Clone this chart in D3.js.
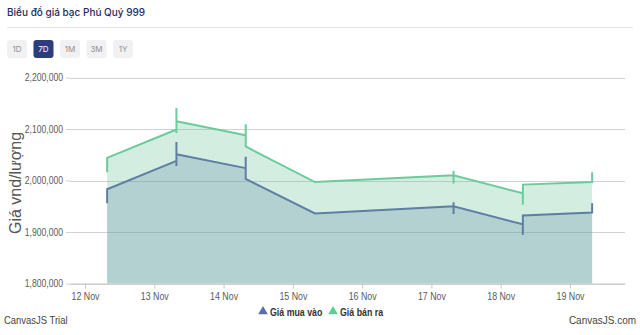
<!DOCTYPE html>
<html>
<head>
<meta charset="utf-8">
<script src="https://cdn.jsdelivr.net/npm/d3@7/dist/d3.min.js"></script>
<style>
  html, body { margin: 0; padding: 0; background: #fff; }
  svg { display: block; }
  .chartfont { font-family: 'Liberation Sans', 'Noto Sans', sans-serif; }
</style>
</head>
<body>
<svg id="chart" width="640" height="335"></svg>
<script>
// ---------- data ----------
const title = "Biểu đồ giá bạc Phú Quý 999";
const rangeButtons = ["1D", "7D", "1M", "3M", "1Y"];
const activeButton = "7D";
const dates = ["2024-11-12T07:40", "2024-11-13T07:40", "2024-11-14T07:40", "2024-11-15T07:40",
               "2024-11-17T07:40", "2024-11-18T07:40", "2024-11-19T07:40"];
// several readings were recorded at the same time on each day
const buyValues = [
  [1956000, 1983000],
  [2038000, 2075000, 2028000, 2051000],
  [2024000, 2046000, 2003000],
  [1936000],
  [1950000, 1958000, 1935000, 1950000],
  [1915000, 1894000, 1932000],
  [1938000, 1956000]
];
const sellValues = [
  [2016000, 2044000],
  [2099000, 2141000, 2092000, 2115000],
  [2088000, 2109000, 2066000],
  [1997000],
  [2010000, 2019000, 1994000, 2010000],
  [1975000, 1953000, 1992000],
  [1997000, 2016000]
];
const yTicks = [1800000, 1900000, 2000000, 2100000, 2200000];
const xTickDays = ["2024-11-12", "2024-11-13", "2024-11-14", "2024-11-15", "2024-11-16", "2024-11-17", "2024-11-18", "2024-11-19"];
const seriesNames = ["Giá mua vào", "Giá bán ra"];
const yTitle = "Giá vnd/lượng";

// ---------- drawing ----------
(function () {
const svg = d3.select("#chart");
const parseT = d3.timeParse("%Y-%m-%dT%H:%M");
const parseD = d3.timeParse("%Y-%m-%d");

// condense text horizontally (reference uses a narrow font)
function condense(sel, k) {
  sel.each(function () {
    const w = this.getComputedTextLength();
    d3.select(this).attr("textLength", w * k).attr("lengthAdjust", "spacingAndGlyphs");
  });
}

// header
svg.append("text").attr("x", 7).attr("y", 16)
  .attr("font-family", "Inter, 'Noto Sans', sans-serif").attr("font-size", 10)
  .attr("font-weight", 500).attr("fill", "#1f2b5c").text(title);
svg.append("line").attr("x1", 7).attr("x2", 633).attr("y1", 27.5).attr("y2", 27.5)
  .attr("stroke", "#e3e3e3");
const btn = svg.append("g").selectAll("g").data(rangeButtons).join("g")
  .attr("transform", (d, i) => `translate(${7 + i * 26.5},40)`);
btn.append("rect").attr("width", 20).attr("height", 18).attr("rx", 3)
  .attr("fill", d => d === activeButton ? "#2b3d7c" : "#f1f1f3");
btn.append("text").attr("x", 10).attr("y", 12.2).attr("text-anchor", "middle")
  .attr("font-family", "Inter, 'Noto Sans', sans-serif").attr("font-size", 8)
  .attr("fill", d => d === activeButton ? "#ffffff" : "#8e8e96").text(d => d);

// scales
const pLeft = 70, pRight = 625, pTop = 77.5, pBottom = 283.5;
const xBase = d3.scaleTime().domain([parseD("2024-11-12"), parseD("2024-11-19")]).range([85, 570]);
const x = d3.scaleTime().domain([xBase.invert(pLeft), xBase.invert(pRight)]).range([pLeft, pRight]);
const y = d3.scaleLinear().domain([1800000, 2200000]).range([pBottom, pTop]);

const g = svg.append("g").attr("class", "chartfont");

// gridlines
g.append("g").selectAll("line").data(yTicks).join("line")
  .attr("x1", pLeft).attr("x2", pRight)
  .attr("y1", d => Math.round(y(d)) + 0.5).attr("y2", d => Math.round(y(d)) + 0.5)
  .attr("stroke", "#d2d2d2").attr("stroke-width", 1);

// y axis labels
const yAxis = d3.axisLeft(y).tickValues(yTicks).tickFormat(d3.format(",")).tickSize(4).tickPadding(3);
const ya = g.append("g").attr("transform", `translate(${pLeft},0)`).call(yAxis);
ya.select(".domain").remove();
ya.selectAll(".tick line").attr("stroke", "#d2d2d2");
ya.selectAll("text").attr("font-size", 10.5).attr("fill", "#5a5a5a").attr("font-family", null);
condense(ya.selectAll("text"), 0.82);

// y title
g.append("text").attr("transform", `translate(21,183) rotate(-90)`)
  .attr("text-anchor", "middle").attr("font-size", 16).attr("fill", "#555")
  .text(yTitle);

// flatten series
function flatten(vals) {
  const out = [];
  vals.forEach((arr, i) => arr.forEach(v => out.push({ t: parseT(dates[i]), v })));
  return out;
}
const buy = flatten(buyValues);
const sell = flatten(sellValues);

const area = d3.area().x(d => x(d.t)).y0(pBottom).y1(d => y(d.v));
const line = d3.line().x(d => x(d.t)).y(d => y(d.v));

g.append("path").datum(sell).attr("d", area).attr("fill", "rgb(110,200,155)").attr("fill-opacity", 0.3);
g.append("path").datum(buy).attr("d", area).attr("fill", "rgb(94,126,166)").attr("fill-opacity", 0.26);
g.append("path").datum(sell).attr("d", line).attr("fill", "none").attr("stroke", "#6ccb9c")
  .attr("stroke-width", 2).attr("stroke-linejoin", "miter");
g.append("path").datum(buy).attr("d", line).attr("fill", "none").attr("stroke", "#5f7ea4")
  .attr("stroke-width", 2).attr("stroke-linejoin", "miter");

// x axis
const xAxis = d3.axisBottom(x).tickValues(xTickDays.map(parseD))
  .tickFormat(d3.timeFormat("%-d %b")).tickSize(5).tickPadding(4).tickSizeOuter(0);
const xa = g.append("g").attr("transform", `translate(0,${pBottom})`).call(xAxis);
xa.select(".domain").attr("stroke", "#c8c8c8");
xa.selectAll(".tick line").attr("stroke", "#c8c8c8");
xa.selectAll("text").attr("font-size", 10.5).attr("fill", "#5a5a5a").attr("font-family", null);
condense(xa.selectAll("text"), 0.84);

// legend
const legend = g.append("g").attr("transform", "translate(259,315)");
const legendColors = ["#5a6dab", "#5fcc9a"];
const legendX = [0, 70];
seriesNames.forEach((name, i) => {
  const lg = legend.append("g").attr("transform", `translate(${legendX[i]},0)`);
  lg.append("path").attr("d", d3.symbol().type(d3.symbolTriangle).size(40)())
    .attr("transform", "translate(4,-3.5)").attr("fill", legendColors[i]);
  const t = lg.append("text").attr("x", 11).attr("y", 0.5).attr("font-size", 11)
    .attr("font-weight", "bold").attr("fill", "#333").text(name);
  condense(t, 0.8);
});

// credits
const c1 = g.append("text").attr("x", 4).attr("y", 324).attr("font-size", 10.5).attr("fill", "#444").text("CanvasJS Trial");
condense(c1, 0.9);
const c2 = g.append("text").attr("x", 636).attr("y", 324).attr("text-anchor", "end").attr("font-size", 10.5)
  .attr("fill", "#444").text("CanvasJS.com");
condense(c2, 0.95);
})();
</script>
</body>
</html>
